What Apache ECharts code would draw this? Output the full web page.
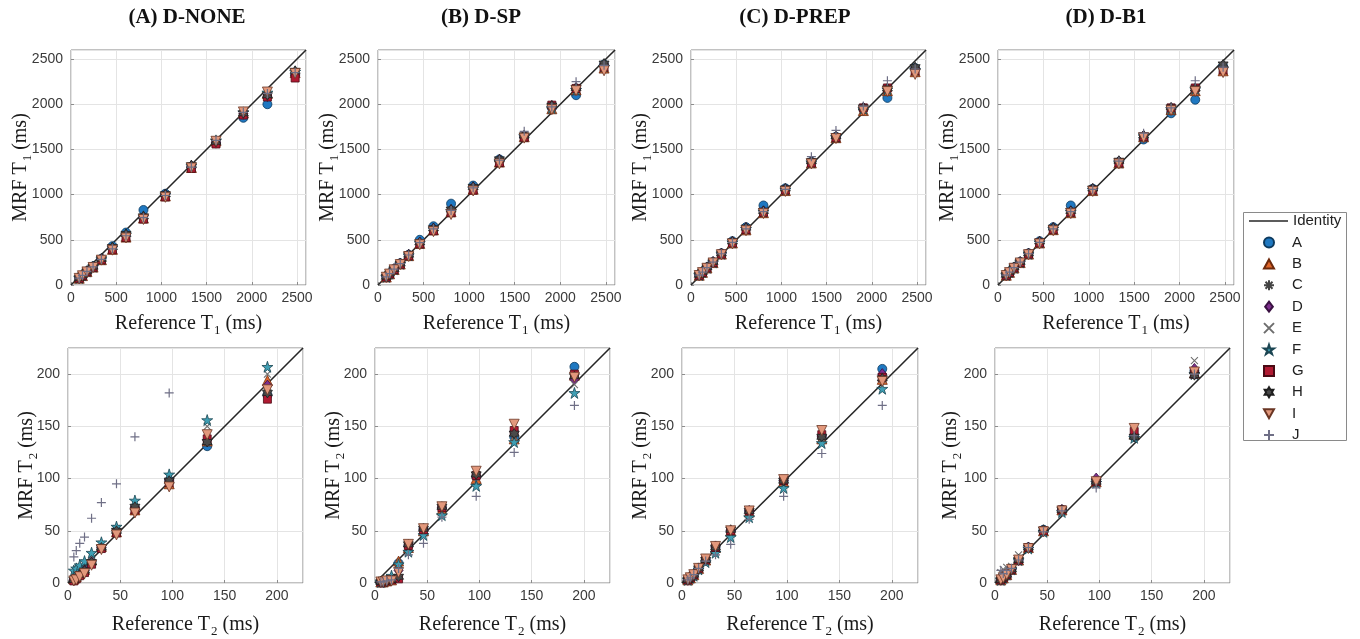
<!DOCTYPE html>
<html>
<head>
<meta charset="utf-8">
<script src="https://cdn.jsdelivr.net/npm/echarts@6/dist/echarts.min.js"></script>
<style>
  html, body { margin: 0; padding: 0; background: #ffffff; }
  #chart { width: 1360px; height: 639px; }
</style>
</head>
<body>
<div id="chart"></div>
<script>
// Phantom spheres: reference relaxation times (ms)
const refT1 = [90.9, 126.9, 176.6, 244.2, 336.5, 458.4, 608.6, 801.7, 1044, 1332, 1604, 1907, 2173, 2480];
const refT2 = [5.592, 7.911, 11.237, 15.813, 22.56, 31.97, 46.42, 64.07, 96.89, 133.27, 190.94];

const seriesNames = ['A', 'B', 'C', 'D', 'E', 'F', 'G', 'H', 'I', 'J'];
const panelTitles = ['(A) D-NONE', '(B) D-SP', '(C) D-PREP', '(D) D-B1'];

const t1Ticks = [0, 500, 1000, 1500, 2000, 2500];
const t2Ticks = [0, 50, 100, 150, 200];

// MRF T1 estimates, one row per series A..J, columns follow refT1
const t1None = [
  [78, 108, 152, 205, 290, 430, 580, 830, 1010, 1310, 1570, 1850, 2000, 2330],
  [75, 104, 148, 198, 280, 395, 530, 740, 985, 1300, 1595, 1905, 2120, 2350],
  [76, 106, 150, 200, 285, 400, 540, 750, 995, 1310, 1580, 1890, 2100, 2340],
  [77, 107, 151, 202, 287, 410, 550, 755, 1000, 1315, 1575, 1895, 2090, 2320],
  [76, 105, 149, 200, 283, 400, 545, 745, 990, 1300, 1590, 1900, 2110, 2345],
  [78, 108, 152, 204, 288, 415, 560, 760, 1000, 1320, 1600, 1910, 2130, 2360],
  [74, 103, 146, 196, 278, 390, 525, 730, 975, 1290, 1560, 1880, 2080, 2290],
  [77, 107, 151, 203, 290, 420, 565, 760, 1005, 1325, 1585, 1900, 2100, 2370],
  [73, 102, 145, 194, 275, 385, 520, 725, 970, 1295, 1590, 1915, 2135, 2340],
  [76, 106, 150, 200, 284, 400, 545, 745, 990, 1305, 1600, 1910, 2120, 2350]
];
const t1Sp = [
  [92, 128, 178, 240, 335, 500, 650, 900, 1100, 1390, 1640, 1960, 2100, 2440],
  [88, 124, 172, 232, 325, 460, 610, 810, 1060, 1360, 1640, 1950, 2160, 2400],
  [90, 126, 174, 235, 330, 465, 620, 820, 1070, 1370, 1650, 1960, 2170, 2420],
  [91, 127, 176, 238, 335, 470, 625, 830, 1080, 1385, 1650, 1980, 2180, 2430],
  [89, 125, 173, 234, 328, 462, 615, 815, 1065, 1365, 1645, 1955, 2165, 2410],
  [90, 126, 175, 236, 330, 466, 620, 818, 1068, 1368, 1648, 1958, 2160, 2415],
  [88, 123, 171, 230, 322, 455, 600, 800, 1050, 1355, 1635, 1990, 2175, 2410],
  [91, 127, 176, 238, 336, 472, 628, 835, 1085, 1390, 1655, 1985, 2180, 2450],
  [86, 121, 168, 226, 315, 445, 590, 780, 1040, 1340, 1625, 1940, 2150, 2370],
  [90, 126, 175, 236, 332, 468, 622, 825, 1075, 1380, 1700, 1970, 2250, 2430]
];
const t1Prep = [
  [112, 145, 195, 255, 350, 485, 640, 880, 1070, 1365, 1640, 1950, 2070, 2400],
  [108, 140, 188, 248, 342, 465, 610, 800, 1045, 1350, 1630, 1930, 2150, 2360],
  [110, 142, 192, 252, 346, 472, 620, 810, 1055, 1355, 1635, 1940, 2160, 2380],
  [112, 144, 194, 254, 348, 478, 630, 815, 1060, 1360, 1640, 1960, 2170, 2390],
  [110, 142, 191, 251, 345, 470, 618, 808, 1052, 1355, 1635, 1945, 2160, 2375],
  [111, 143, 192, 252, 346, 472, 622, 812, 1056, 1358, 1638, 1948, 2165, 2380],
  [108, 140, 189, 248, 342, 465, 612, 805, 1050, 1350, 1630, 1960, 2180, 2370],
  [113, 146, 196, 256, 350, 482, 635, 820, 1068, 1370, 1645, 1965, 2175, 2410],
  [105, 137, 185, 244, 336, 455, 600, 790, 1035, 1340, 1620, 1925, 2140, 2330],
  [110, 142, 192, 252, 346, 472, 620, 812, 1058, 1420, 1710, 1980, 2260, 2390]
];
const t1B1 = [
  [112, 145, 195, 256, 350, 485, 640, 880, 1065, 1360, 1610, 1900, 2050, 2420],
  [108, 140, 188, 248, 342, 465, 612, 800, 1045, 1350, 1640, 1940, 2150, 2370],
  [110, 142, 192, 252, 346, 472, 622, 810, 1055, 1355, 1645, 1945, 2160, 2390],
  [112, 144, 194, 254, 348, 478, 630, 815, 1060, 1365, 1650, 1955, 2170, 2400],
  [110, 142, 191, 251, 345, 470, 618, 808, 1052, 1355, 1645, 1945, 2165, 2390],
  [111, 143, 192, 252, 346, 472, 622, 812, 1056, 1358, 1648, 1948, 2168, 2395],
  [108, 140, 189, 248, 342, 465, 612, 805, 1050, 1350, 1640, 1960, 2180, 2380],
  [113, 146, 196, 256, 350, 482, 635, 820, 1068, 1375, 1655, 1965, 2175, 2440],
  [105, 137, 185, 244, 336, 455, 600, 790, 1035, 1340, 1630, 1930, 2140, 2350],
  [110, 142, 192, 252, 346, 472, 620, 812, 1058, 1370, 1680, 1960, 2260, 2410]
];

// MRF T2 estimates, one row per series A..J, columns follow refT2
const t2None = [
  [3, 5, 8, 12, 20, 34, 50, 72, 98, 131, 180],
  [4, 6, 9, 13, 22, 35, 49, 70, 95, 136, 194],
  [3, 5, 8, 12, 21, 34, 49, 71, 97, 134, 185],
  [3, 5, 8, 12, 21, 34, 50, 72, 99, 137, 189],
  [9, 12, 15, 19, 26, 37, 52, 76, 101, 150, 200],
  [12, 14, 17, 21, 29, 39, 54, 79, 104, 156, 207],
  [2, 4, 7, 10, 18, 33, 48, 70, 96, 138, 176],
  [3, 5, 8, 12, 20, 34, 50, 73, 98, 135, 182],
  [2, 3, 6, 9, 17, 32, 46, 67, 92, 142, 185],
  [25, 31, 38, 44, 62, 77, 95, 140, 182, null, null]
];
const t2Sp = [
  [1, 1, 2, 3, 19, 36, 52, 72, 102, 140, 207],
  [1, 1, 2, 3, 21, 34, 50, 70, 100, 138, 199],
  [1, 1, 2, 3, 15, 35, 51, 71, 101, 142, 198],
  [1, 1, 2, 3, 12, 35, 51, 72, 102, 145, 195],
  [1, 1, 2, 4, 17, 33, 48, 68, 97, 140, 190],
  [1, 2, 3, 7, 18, 30, 46, 65, 93, 135, 182],
  [1, 1, 2, 3, 4, 36, 51, 72, 103, 146, 200],
  [1, 1, 2, 3, 6, 37, 52, 73, 104, 143, 198],
  [1, 1, 2, 2, 10, 37, 52, 73, 107, 152, 197],
  [1, 1, 2, 3, 14, 27, 38, 63, 83, 125, 170]
];
const t2Prep = [
  [3, 5, 8, 14, 22, 34, 50, 69, 98, 140, 205],
  [3, 5, 8, 14, 22, 34, 50, 68, 97, 138, 195],
  [3, 5, 8, 14, 22, 34, 50, 68, 97, 139, 196],
  [3, 5, 8, 14, 22, 35, 50, 69, 98, 141, 200],
  [3, 5, 8, 14, 21, 33, 48, 67, 95, 138, 195],
  [3, 5, 7, 13, 20, 29, 44, 63, 91, 134, 186],
  [3, 5, 8, 14, 22, 34, 50, 69, 98, 142, 197],
  [3, 5, 8, 14, 22, 34, 51, 69, 98, 140, 196],
  [3, 5, 8, 14, 23, 35, 50, 69, 99, 146, 193],
  [3, 5, 8, 14, 21, 27, 37, 61, 83, 124, 170]
];
const t2B1 = [
  [3, 5, 8, 13, 22, 34, 51, 70, 97, 140, 203],
  [3, 5, 8, 13, 22, 34, 50, 70, 97, 143, 201],
  [3, 5, 8, 13, 22, 34, 50, 69, 97, 141, 200],
  [3, 5, 8, 13, 22, 34, 50, 70, 100, 142, 205],
  [10, 13, 15, 16, 27, 34, 49, 68, 96, 140, 213],
  [3, 5, 8, 13, 22, 33, 49, 68, 96, 139, 200],
  [3, 5, 8, 13, 22, 34, 50, 70, 97, 145, 200],
  [3, 5, 8, 13, 22, 34, 51, 70, 97, 140, 199],
  [3, 5, 8, 13, 22, 33, 49, 69, 97, 148, 202],
  [12, 9, 12, 14, 22, 34, 49, 69, 91, 141, 200]
];

// ---- marker appearance for each series ----
const SERIF = "'Liberation Serif', 'DejaVu Serif', serif";
const SANS = "'Liberation Sans', Arial, sans-serif";

const pentagram = 'path://M50,0 L61.23,34.55 L97.55,34.55 L68.17,55.9 L79.39,90.45 L50,69.1 L20.61,90.45 L31.83,55.9 L2.45,34.55 L38.77,34.55 Z';
const hexagram = 'path://M50,0 L64.43,25 L93.3,25 L78.87,50 L93.3,75 L64.43,75 L50,100 L35.57,75 L6.7,75 L21.13,50 L6.7,25 L35.57,25 Z';
const asterisk = 'path://M5,0 L5,10 M0,5 L10,5 M1.5,1.5 L8.5,8.5 M8.5,1.5 L1.5,8.5';
const cross = 'path://M0,0 L10,10 M10,0 L0,10';
const plus = 'path://M5,0 L5,10 M0,5 L10,5';
const triDown = 'path://M0,0 L10,0 L5,9 Z';
const triUp = 'path://M5,0 L10,9 L0,9 Z';
const diamond = 'path://M5,0 L10,6.5 L5,13 L0,6.5 Z';

const markers = [
  { symbol: 'circle',  size: 9,  color: '#1f78c1', border: '#0d3a5e', bw: 0.8 },
  { symbol: triUp,     size: 10, color: '#e0662a', border: '#6e2a0c', bw: 0.8 },
  { symbol: asterisk,  size: 8,  color: 'rgba(0,0,0,0)', border: '#444444', bw: 1.2 },
  { symbol: diamond,   size: [9, 11], color: '#7e2f8e', border: '#3a1142', bw: 0.8 },
  { symbol: cross,     size: 7,  color: 'rgba(0,0,0,0)', border: '#6e6e6e', bw: 1.1 },
  { symbol: pentagram, size: 11, color: '#3f9fb4', border: '#1b4552', bw: 0.8 },
  { symbol: 'rect',    size: 8,  color: '#b01a32', border: '#4a0a14', bw: 0.8 },
  { symbol: hexagram,  size: 10, color: '#4a4a4a', border: '#1e1e1e', bw: 0.8 },
  { symbol: triDown,   size: 10, color: '#e2987c', border: '#6a3624', bw: 0.8 },
  { symbol: plus,      size: 9,  color: 'rgba(0,0,0,0)', border: '#6f6f86', bw: 1.2 }
];

// ---- panel layout ----
const panels = [
  { title: 0, kind: 't1', values: t1None, left: 71,  top: 50,  width: 235, titleX: 187, yGap: 37 },
  { title: 1, kind: 't1', values: t1Sp,   left: 378, top: 50,  width: 237, titleX: 481, yGap: 37 },
  { title: 2, kind: 't1', values: t1Prep, left: 691, top: 50,  width: 235, titleX: 795, yGap: 37 },
  { title: 3, kind: 't1', values: t1B1,   left: 998, top: 50,  width: 236, titleX: 1106, yGap: 37 },
  { kind: 't2', values: t2None, left: 68,  top: 348, width: 235, yGap: 28 },
  { kind: 't2', values: t2Sp,   left: 375, top: 348, width: 235, yGap: 28 },
  { kind: 't2', values: t2Prep, left: 682, top: 348, width: 236, yGap: 28 },
  { kind: 't2', values: t2B1,   left: 995, top: 348, width: 235, yGap: 31 }
];

const axisSpec = {
  t1: { max: 2600, interval: 500, ref: refT1, sub: '1', ticks: t1Ticks, xGap: 29 },
  t2: { max: 225, interval: 50, ref: refT2, sub: '2', ticks: t2Ticks, xGap: 32 }
};

function nameRich() {
  return {
    fontFamily: SERIF, fontSize: 20, color: '#1a1a1a',
    rich: {
      t: { fontFamily: SERIF, fontSize: 20, color: '#1a1a1a', verticalAlign: 'top', lineHeight: 22 },
      s: { fontFamily: SERIF, fontSize: 13, color: '#1a1a1a', verticalAlign: 'top', padding: [10, 0, 0, 1] }
    }
  };
}

function valueAxis(spec, gridIndex, isX, gap) {
  return {
    type: 'value',
    gridIndex: gridIndex,
    min: 0,
    max: spec.max,
    interval: spec.interval,
    name: isX ? '{t|Reference T}{s|' + spec.sub + '}{t| (ms)}' : '{t|MRF T}{s|' + spec.sub + '}{t| (ms)}',
    nameLocation: 'middle',
    nameGap: gap,
    nameMoveOverlap: false,
    nameTextStyle: nameRich(),
    axisLine: { show: false },
    axisTick: { show: true, inside: true, length: 3, lineStyle: { color: '#8c8c8c', width: 1 } },
    axisLabel: {
      show: true, showMaxLabel: false, fontFamily: SANS, fontSize: 14, color: '#3a3a3a',
      margin: isX ? 6 : 8,
      formatter: function (v) { return spec.ticks.indexOf(v) >= 0 ? String(v) : ''; }
    },
    splitLine: { show: true, lineStyle: { color: '#e4e4e4', width: 1 } }
  };
}

const grids = [], xAxes = [], yAxes = [], series = [];

panels.forEach(function (p, gi) {
  const spec = axisSpec[p.kind];
  grids.push({
    left: p.left, top: p.top, width: p.width, height: 235,
    show: true, borderColor: '#858585', borderWidth: 1, backgroundColor: '#ffffff'
  });
  xAxes.push(valueAxis(spec, gi, true, spec.xGap));
  yAxes.push(valueAxis(spec, gi, false, p.yGap));

  // identity line spans the full axis range
  series.push({
    name: 'Identity', type: 'line', xAxisIndex: gi, yAxisIndex: gi,
    data: [[0, 0], [spec.max, spec.max]],
    symbol: 'none', showSymbol: false, silent: true, clip: true,
    itemStyle: { color: '#262626' },
    lineStyle: { color: '#262626', width: 1.6 }, z: 2
  });

  seriesNames.forEach(function (name, k) {
    const m = markers[k];
    const pts = [];
    spec.ref.forEach(function (x, i) {
      const y = p.values[k][i];
      if (y !== null && y !== undefined) pts.push([x, y]);
    });
    series.push({
      name: name, type: 'scatter', xAxisIndex: gi, yAxisIndex: gi,
      data: pts, symbol: m.symbol, symbolSize: m.size, clip: true, z: 3,
      itemStyle: { color: m.color, borderColor: m.border, borderWidth: m.bw, opacity: 1 }
    });
  });
});

const graphics = [
  { type: 'rect', z: 0, shape: { x: 1243.5, y: 212.5, width: 103, height: 228 },
    style: { fill: '#ffffff', stroke: '#8a8a8a', lineWidth: 1 } }
];
panels.forEach(function (p) {
  if (p.title === undefined) return;
  graphics.push({
    type: 'text', z: 10, x: p.titleX, y: 18,
    style: { text: panelTitles[p.title], font: 'bold 21px ' + SERIF, fill: '#111111',
             textAlign: 'center', textVerticalAlign: 'middle' }
  });
});

const legendText = { fontFamily: SANS, fontSize: 15, color: '#222222' };

const chart = echarts.init(document.getElementById('chart'), null, { renderer: 'canvas' });
chart.setOption({
  animation: false,
  backgroundColor: '#ffffff',
  grid: grids,
  xAxis: xAxes,
  yAxis: yAxes,
  series: series,
  graphic: graphics,
  legend: [
    {
      show: true, orient: 'vertical', left: 1249, top: 213.5, padding: 0,
      itemWidth: 39, itemHeight: 10, selectedMode: false, z: 5,
      data: [{ name: 'Identity', icon: 'path://M0,0 L40,0 L40,1.6 L0,1.6 Z', itemStyle: { color: '#262626', borderWidth: 0 } }],
      textStyle: legendText
    },
    {
      show: true, orient: 'vertical', left: 1263, top: 235, padding: 0,
      itemWidth: 10, itemHeight: 10, itemGap: 6.4, selectedMode: false, z: 5,
      symbolKeepAspect: true,
      data: seriesNames,
      textStyle: Object.assign({ padding: [0, 0, 0, 13] }, legendText)
    }
  ]
});
</script>
</body>
</html>
